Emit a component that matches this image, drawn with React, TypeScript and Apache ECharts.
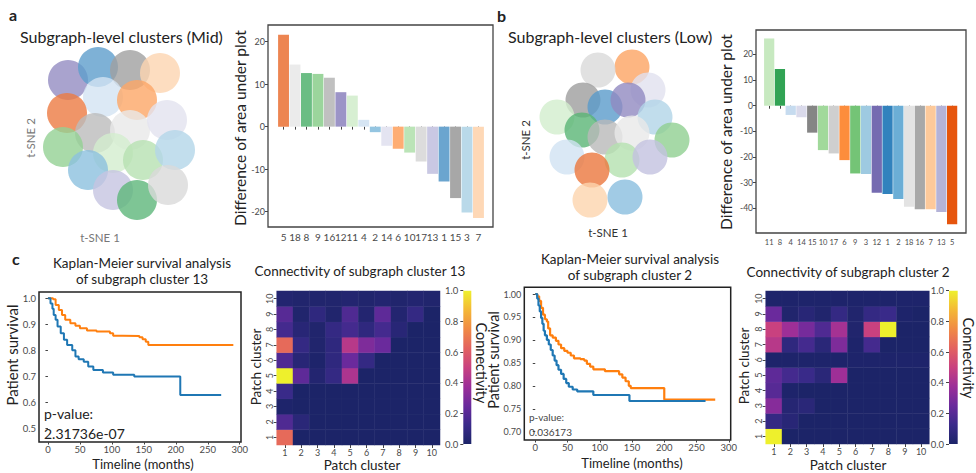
import React, { useEffect, useRef } from "react";
import * as echarts from "echarts";

// ---------- data ----------
// colour of subgraph clusters 1..18
const clusterPalette = [
  "#3182bd", "#6baed6", "#9ecae1", "#c6dbef", "#e6550d", "#fd8d3c", "#fdc99a", "#31a354", "#74c476",
  "#a1d99b", "#c7e9c0", "#756bb1", "#b4b3d8", "#dadaeb", "#858585", "#a8a8a8", "#cfcfcf", "#e3e3e3",
];

const midClusters = [5, 18, 8, 9, 16, 12, 11, 4, 2, 14, 6, 10, 17, 13, 1, 15, 3, 7];
const midDiff = [21.6, 14.6, 12.6, 12.4, 11.5, 8.1, 7.3, 1.6, -1.3, -4.5, -5.2, -6.1, -8.2, -11.1, -12.9, -16.8, -20.2, -21.5];
const midTicks = [-20, -10, 0, 10, 20];

const lowClusters = [11, 8, 4, 14, 15, 10, 17, 6, 9, 3, 12, 1, 2, 18, 16, 7, 13, 5];
const lowDiff = [26.2, 14.3, -3.6, -4.5, -10.5, -17.3, -18.6, -21.2, -26.4, -26.6, -33.9, -34.4, -36.4, -39.4, -40.3, -40.3, -41.4, -46.2];
const lowTicks = [-40, -30, -20, -10, 0, 10, 20];

// t-SNE cluster centres: [tSNE1, tSNE2, cluster]
const tsneMid = [
  [-26, 27.5, 12], [-11, 34, 1], [5, 32.5, 15], [20, 31, 7], [-8.5, 19, 4], [8.5, 17.5, 6],
  [-26.5, 11, 5], [-12.5, 1, 16], [5, 2.5, 18], [23.5, 7.5, 14], [-28.5, -6, 9], [-3.5, -9, 11],
  [11.5, -12.5, 10], [27.5, -7.5, 3], [-16, -17.5, 2], [-3.5, -27.5, 13], [8.5, -32.5, 8], [24, -25, 17],
];
const tsneLow = [
  [6, 34, 6], [-11, 32.5, 17], [14, 22.5, 14], [-18.5, 17.5, 15], [-7.5, 14, 1], [4, 17.5, 12],
  [17.5, 9, 3], [-31.5, 9, 11], [-19, 2.5, 8], [-7.5, -1, 16], [6, 1, 18], [26, -2.5, 9],
  [-26.5, -11, 4], [1, -12.5, 10], [15, -11, 13], [-14, -17.5, 5], [-15, -32.5, 7], [2.5, -31, 2],
];

// Kaplan-Meier curves: [months, survival]
const km13Other = [
  [0, 1.0], [8, 0.996], [12, 0.974], [17, 0.955], [22, 0.936], [27, 0.917], [35, 0.904], [43, 0.894],
  [50, 0.885], [61, 0.876], [76, 0.872], [97, 0.865], [102, 0.856], [117, 0.855], [143, 0.85],
  [148, 0.842], [153, 0.833], [157, 0.82], [290, 0.82],
];
const km13Cluster = [
  [0, 1.0], [4, 0.98], [7, 0.96], [9, 0.936], [12, 0.917], [15, 0.891], [20, 0.865], [25, 0.84],
  [30, 0.82], [38, 0.8], [43, 0.776], [48, 0.765], [56, 0.756], [63, 0.737], [71, 0.724], [86, 0.714],
  [102, 0.706], [135, 0.699], [207, 0.628], [271, 0.628],
];
const km2Other = [
  [0, 1.0], [3, 0.995], [6, 0.985], [9, 0.97], [12, 0.955], [15, 0.945], [18, 0.94], [20, 0.925],
  [23, 0.91], [27, 0.905], [32, 0.898], [36, 0.89], [40, 0.882], [45, 0.876], [50, 0.872], [55, 0.866],
  [60, 0.86], [70, 0.858], [76, 0.855], [80, 0.848], [85, 0.842], [90, 0.836], [108, 0.832],
  [130, 0.825], [135, 0.818], [140, 0.81], [145, 0.8], [148, 0.795], [200, 0.77], [279, 0.77],
];
const km2Cluster = [
  [0, 1.0], [3, 0.99], [5, 0.975], [7, 0.962], [9, 0.948], [11, 0.935], [13, 0.92], [15, 0.91],
  [18, 0.9], [21, 0.89], [24, 0.878], [27, 0.866], [30, 0.855], [33, 0.845], [36, 0.835], [40, 0.826],
  [44, 0.815], [48, 0.806], [52, 0.798], [58, 0.792], [65, 0.788], [90, 0.78], [146, 0.767], [264, 0.767],
];
const kmTimeTicks = [0, 50, 100, 150, 200, 250, 300];
const km13SurvTicks = [0.5, 0.6, 0.7, 0.8, 0.9, 1.0];
const km2SurvTicks = [0.7, 0.75, 0.8, 0.85, 0.9, 0.95, 1.0];

// connectivity matrices, row r = patch cluster r+1 (bottom to top), col c = patch cluster c+1
const patchClusters = ["1", "2", "3", "4", "5", "6", "7", "8", "9", "10"];
const conn13 = [
  [0.65, 0, 0, 0, 0, 0, 0, 0, 0, 0],
  [0.18, 0.06, 0, 0, 0, 0, 0, 0, 0, 0],
  [0.01, 0, 0, 0, 0, 0, 0, 0, 0, 0],
  [0.12, 0, 0, 0, 0, 0, 0, 0, 0, 0],
  [1.0, 0.22, 0.03, 0.1, 0.42, 0, 0, 0, 0, 0],
  [0.18, 0.05, 0.01, 0.08, 0.25, 0.1, 0, 0, 0, 0],
  [0.65, 0.1, 0.02, 0.08, 0.45, 0.3, 0.25, 0, 0, 0],
  [0.15, 0.05, 0.02, 0.1, 0.15, 0.08, 0.15, 0.05, 0, 0],
  [0.2, 0.02, 0.08, 0.02, 0.18, 0.03, 0.22, 0.03, 0.1, 0],
  [0.03, 0.02, 0.02, 0.02, 0.03, 0.02, 0.03, 0.02, 0.03, 0.02],
];
const conn2 = [
  [1.0, 0, 0, 0, 0, 0, 0, 0, 0, 0],
  [0.1, 0.05, 0, 0, 0, 0, 0, 0, 0, 0],
  [0.32, 0.04, 0.06, 0, 0, 0, 0, 0, 0, 0],
  [0.2, 0.01, 0, 0, 0, 0, 0, 0, 0, 0],
  [0.22, 0.15, 0.12, 0.06, 0.38, 0, 0, 0, 0, 0],
  [0.01, 0.01, 0.01, 0.01, 0.01, 0.01, 0.01, 0.01, 0.01, 0.01],
  [0.45, 0.08, 0.15, 0.06, 0.3, 0.01, 0.15, 0, 0, 0],
  [0.5, 0.38, 0.28, 0.18, 0.4, 0.02, 0.5, 1.0, 0, 0],
  [0.25, 0.02, 0.05, 0.02, 0.1, 0.02, 0.1, 0.12, 0.01, 0],
  [0.01, 0.01, 0.01, 0.01, 0.01, 0.01, 0.01, 0.01, 0.01, 0.01],
];
const connTicks = [0, 0.2, 0.4, 0.6, 0.8, 1.0];
const plasmaLike = ["#1c2468", "#3a2a8a", "#6a2a9c", "#9c2e98", "#c9417f", "#e3625f", "#f08a45", "#f4b836", "#eef02c"];

// ---------- helpers ----------
const FF = "Lato, 'Open Sans', sans-serif";
const fade = (hex: string, a: number) => {
  const n = parseInt(hex.slice(1), 16);
  const m = (c: number) => Math.round(c * a + 255 * (1 - a));
  return `rgb(${m((n >> 16) & 255)},${m((n >> 8) & 255)},${m(n & 255)})`;
};
const colorOf = (cluster: number) => clusterPalette[cluster - 1];
const cells = (m: number[][]) => {
  const out: number[][] = [];
  m.forEach((row, r) => row.forEach((v, c) => out.push([c, r, v])));
  return out;
};
const signed = (v: number) => (v < 0 ? "-" + Math.abs(v) : String(v));

const tickStyle = { color: "#444", width: 1 };
const labelStyle = (size: number) => ({ fontSize: size, color: "#4a4a4a", fontFamily: FF });

const text = (t: string, x: number, y: number, size: number, opts: any = {}) => ({
  type: "text",
  x,
  y,
  rotation: opts.rotation || 0,
  silent: true,
  style: {
    text: t,
    fontSize: size,
    fontFamily: FF,
    fontWeight: opts.bold ? "bold" : "normal",
    fill: opts.fill || "#222",
    textAlign: opts.align || "center",
    textVerticalAlign: "middle",
  },
});

export default function App() {
  const ref = useRef<HTMLDivElement>(null);
  useEffect(() => {
    if (!ref.current) return;
    const chart = echarts.init(ref.current, null, { renderer: "svg" });

    const grid = [
      { left: 268, top: 25, width: 225, height: 202, show: true, borderColor: "#444", borderWidth: 1.3, backgroundColor: "transparent" }, // 0 bar A frame
      { left: 277.8, top: 25, width: 206.4, height: 202 }, // 1 bar A bars
      { left: 756, top: 30, width: 210, height: 203, show: true, borderColor: "#444", borderWidth: 1.3, backgroundColor: "transparent" }, // 2 bar B frame
      { left: 763.8, top: 30, width: 193.7, height: 203 }, // 3 bar B bars
      { left: 30, top: 45, width: 180, height: 180 }, // 4 tsne A
      { left: 530, top: 45, width: 180, height: 180 }, // 5 tsne B
      { left: 39, top: 292, width: 202, height: 150, show: true, borderColor: "#222", borderWidth: 1.5, backgroundColor: "transparent" }, // 6 km1
      { left: 524.3, top: 287.3, width: 206.4, height: 152.7, show: true, borderColor: "#222", borderWidth: 1.5, backgroundColor: "transparent" }, // 7 km2
      { left: 276.7, top: 291, width: 163.3, height: 154 }, // 8 heat1
      { left: 463.3, top: 290.7, width: 8, height: 153.3 }, // 9 cbar1
      { left: 765.7, top: 291, width: 163.6, height: 153 }, // 10 heat2
      { left: 949, top: 290.7, width: 8.7, height: 153.3 }, // 11 cbar2
    ];

    const hidden = (gi: number, min = 0, max = 1) => ({ type: "value", gridIndex: gi, min, max, show: false });
    const barX = (gi: number, cats: number[], size: number) => ({
      type: "category",
      gridIndex: gi,
      data: cats.map(String),
      axisLine: { show: false },
      axisTick: { show: true, alignWithLabel: true, length: 3, lineStyle: tickStyle },
      axisLabel: { interval: 0, margin: 5, ...labelStyle(size) },
      splitLine: { show: false },
    });
    const barY = (gi: number, min: number, max: number, ticks: number[], offset: number, size: number) => ({
      type: "value",
      gridIndex: gi,
      min,
      max,
      offset,
      axisLine: { show: false },
      axisTick: { show: true, length: 3, lineStyle: tickStyle, customValues: ticks },
      axisLabel: { customValues: ticks, margin: 3, formatter: signed, ...labelStyle(size) },
      splitLine: { show: false },
    });
    const kmX = (gi: number, min: number, max: number) => ({
      type: "value",
      gridIndex: gi,
      min,
      max,
      axisLine: { show: false },
      axisTick: { show: true, length: 2.5, lineStyle: tickStyle, customValues: kmTimeTicks },
      axisLabel: { customValues: kmTimeTicks, margin: 2.5, formatter: (v: number) => String(v), ...labelStyle(9.5) },
      splitLine: { show: false },
    });
    const kmY = (gi: number, min: number, max: number, ticks: number[], digits: number, size: number) => ({
      type: "value",
      gridIndex: gi,
      min,
      max,
      axisLine: { show: false },
      axisTick: { show: true, length: 2.5, lineStyle: tickStyle, customValues: ticks },
      axisLabel: { customValues: ticks, margin: 3, formatter: (v: number) => v.toFixed(digits), ...labelStyle(size) },
      splitLine: { show: false },
    });
    const heatAxis = (gi: number, rotate: number) => ({
      type: "category",
      gridIndex: gi,
      data: patchClusters,
      axisLine: { show: false },
      axisTick: { show: true, alignWithLabel: true, length: 3, lineStyle: tickStyle },
      axisLabel: { interval: 0, rotate, margin: 3, ...labelStyle(9) },
      splitLine: { show: false },
      splitArea: { show: false },
    });
    const cbarX = (gi: number) => ({ type: "category", gridIndex: gi, data: ["c"], show: false });
    const cbarY = (gi: number) => ({
      type: "value",
      gridIndex: gi,
      min: 0,
      max: 1,
      position: "left",
      axisLine: { show: false },
      axisTick: { show: true, length: 3, lineStyle: tickStyle, customValues: connTicks },
      axisLabel: { customValues: connTicks, margin: 5, formatter: (v: number) => v.toFixed(1), ...labelStyle(9.5) },
      splitLine: { show: false },
    });

    const xAxis = [
      hidden(0), barX(1, midClusters, 10), hidden(2), barX(3, lowClusters, 7.5),
      hidden(4, -45, 45), hidden(5, -45, 45),
      kmX(6, -14, 302), kmX(7, -17, 303),
      heatAxis(8, 0), cbarX(9), heatAxis(10, 0), cbarX(11),
    ];
    const yAxis = [
      hidden(0), barY(1, -23.6, 23.9, midTicks, 9.8, 9), hidden(2), barY(3, -49.6, 29.5, lowTicks, 7.8, 8.5),
      hidden(4, -45, 45), hidden(5, -45, 45),
      kmY(6, 0.447, 1.024, km13SurvTicks, 1, 9.5), kmY(7, 0.682, 1.0146, km2SurvTicks, 2, 9),
      heatAxis(8, 90), cbarY(9), heatAxis(10, 90), cbarY(11),
    ];

    const gradient = new echarts.graphic.LinearGradient(
      0, 1, 0, 0,
      plasmaLike.map((c, i) => ({ offset: i / (plasmaLike.length - 1), color: c }))
    );

    const series: any[] = [
      {
        type: "bar", xAxisIndex: 1, yAxisIndex: 1, barCategoryGap: "5%",
        data: midDiff.map((v, i) => ({ value: v, itemStyle: { color: fade(colorOf(midClusters[i]), 0.72) } })),
      },
      {
        type: "bar", xAxisIndex: 3, yAxisIndex: 3, barCategoryGap: "5%",
        data: lowDiff.map((v, i) => ({ value: v, itemStyle: { color: colorOf(lowClusters[i]) } })),
      },
      {
        type: "scatter", xAxisIndex: 4, yAxisIndex: 4, symbol: "circle", symbolSize: 40,
        data: tsneMid.map((p) => ({ value: [p[0], p[1]], itemStyle: { color: fade(colorOf(p[2]), 0.78) } })),
      },
      {
        type: "scatter", xAxisIndex: 5, yAxisIndex: 5, symbol: "circle", symbolSize: 35,
        data: tsneLow.map((p) => ({ value: [p[0], p[1]], itemStyle: { color: fade(colorOf(p[2]), 0.8) } })),
      },
      { type: "line", xAxisIndex: 6, yAxisIndex: 6, step: "end", showSymbol: false, data: km13Other, lineStyle: { color: "#ff7f0e", width: 2 }, itemStyle: { color: "#ff7f0e" } },
      { type: "line", xAxisIndex: 6, yAxisIndex: 6, step: "end", showSymbol: false, data: km13Cluster, lineStyle: { color: "#1f77b4", width: 2 }, itemStyle: { color: "#1f77b4" } },
      { type: "line", xAxisIndex: 7, yAxisIndex: 7, step: "end", showSymbol: false, data: km2Other, lineStyle: { color: "#ff7f0e", width: 2.2 }, itemStyle: { color: "#ff7f0e" } },
      { type: "line", xAxisIndex: 7, yAxisIndex: 7, step: "end", showSymbol: false, data: km2Cluster, lineStyle: { color: "#1f77b4", width: 2.2 }, itemStyle: { color: "#1f77b4" } },
      { type: "heatmap", xAxisIndex: 8, yAxisIndex: 8, data: cells(conn13), itemStyle: { borderColor: "rgba(255,255,255,0.06)", borderWidth: 0.5 } },
      { type: "heatmap", xAxisIndex: 10, yAxisIndex: 10, data: cells(conn2), itemStyle: { borderColor: "rgba(255,255,255,0.06)", borderWidth: 0.5 } },
      { type: "bar", xAxisIndex: 9, yAxisIndex: 9, barWidth: "100%", data: [1], itemStyle: { color: gradient }, silent: true },
      { type: "bar", xAxisIndex: 11, yAxisIndex: 11, barWidth: "100%", data: [1], itemStyle: { color: gradient }, silent: true },
    ];

    const R = Math.PI / 2;
    const graphic = [
      text("a", 9, 14, 16, { bold: true, align: "left" }),
      text("Subgraph-level clusters (Mid)", 20, 36, 16, { align: "left" }),
      text("b", 497, 15, 16, { bold: true, align: "left" }),
      text("Subgraph-level clusters (Low)", 508, 36, 16, { align: "left" }),
      text("t-SNE 2", 30, 138, 11.5, { rotation: R, fill: "#777" }),
      text("t-SNE 1", 100, 237, 11.5, { fill: "#777" }),
      text("t-SNE 2", 525, 140, 11.5, { rotation: R, fill: "#333" }),
      text("t-SNE 1", 608, 232, 11.5, { fill: "#333" }),
      text("Difference of area under plot", 240, 128, 15.5, { rotation: R }),
      text("Difference of area under plot", 726, 132, 15.5, { rotation: R }),
      text("c", 12, 258, 16, { bold: true, align: "left" }),
      text("Kaplan-Meier survival analysis", 142, 263, 13.5),
      text("of subgraph cluster 13", 142, 279, 13.5),
      text("Kaplan-Meier survival analysis", 630, 259, 13.5),
      text("of subgraph cluster 2", 630, 275, 13.5),
      text("Connectivity of subgraph cluster 13", 360, 271, 13.5),
      text("Connectivity of subgraph cluster 2", 848, 272, 13.5),
      text("p-value:", 44, 413, 14, { align: "left" }),
      text("2.31736e-07", 44, 433, 14, { align: "left" }),
      text("p-value:", 529, 417, 10, { align: "left", fill: "#444" }),
      text("0.036173", 529, 432, 10, { align: "left", fill: "#444" }),
      text("Patient survival", 12, 355, 15, { rotation: R }),
      text("Patient survival", 493, 360, 14.5, { rotation: R }),
      text("Timeline (months)", 143, 464, 13),
      text("Timeline (months)", 632, 463, 13),
      text("Patch cluster", 362, 465, 13.5),
      text("Patch cluster", 848, 465, 13.5),
      text("Patch cluster", 256, 367, 13.5, { rotation: R }),
      text("Patch cluster", 744, 366, 13.5, { rotation: R }),
      text("Connectivity", 481, 363, 14.5, { rotation: -R }),
      text("Connectivity", 968, 358, 14.5, { rotation: -R }),
    ];

    chart.setOption({
      animation: false,
      backgroundColor: "#ffffff",
      textStyle: { fontFamily: FF },
      grid,
      xAxis,
      yAxis,
      visualMap: [
        { type: "continuous", min: 0, max: 1, show: false, seriesIndex: [8, 9], inRange: { color: plasmaLike } },
      ],
      series,
      graphic,
    });
    return () => chart.dispose();
  }, []);

  return <div ref={ref} style={{ position: "fixed", left: 0, top: 0, width: 976, height: 473, background: "#fff" }} />;
}
